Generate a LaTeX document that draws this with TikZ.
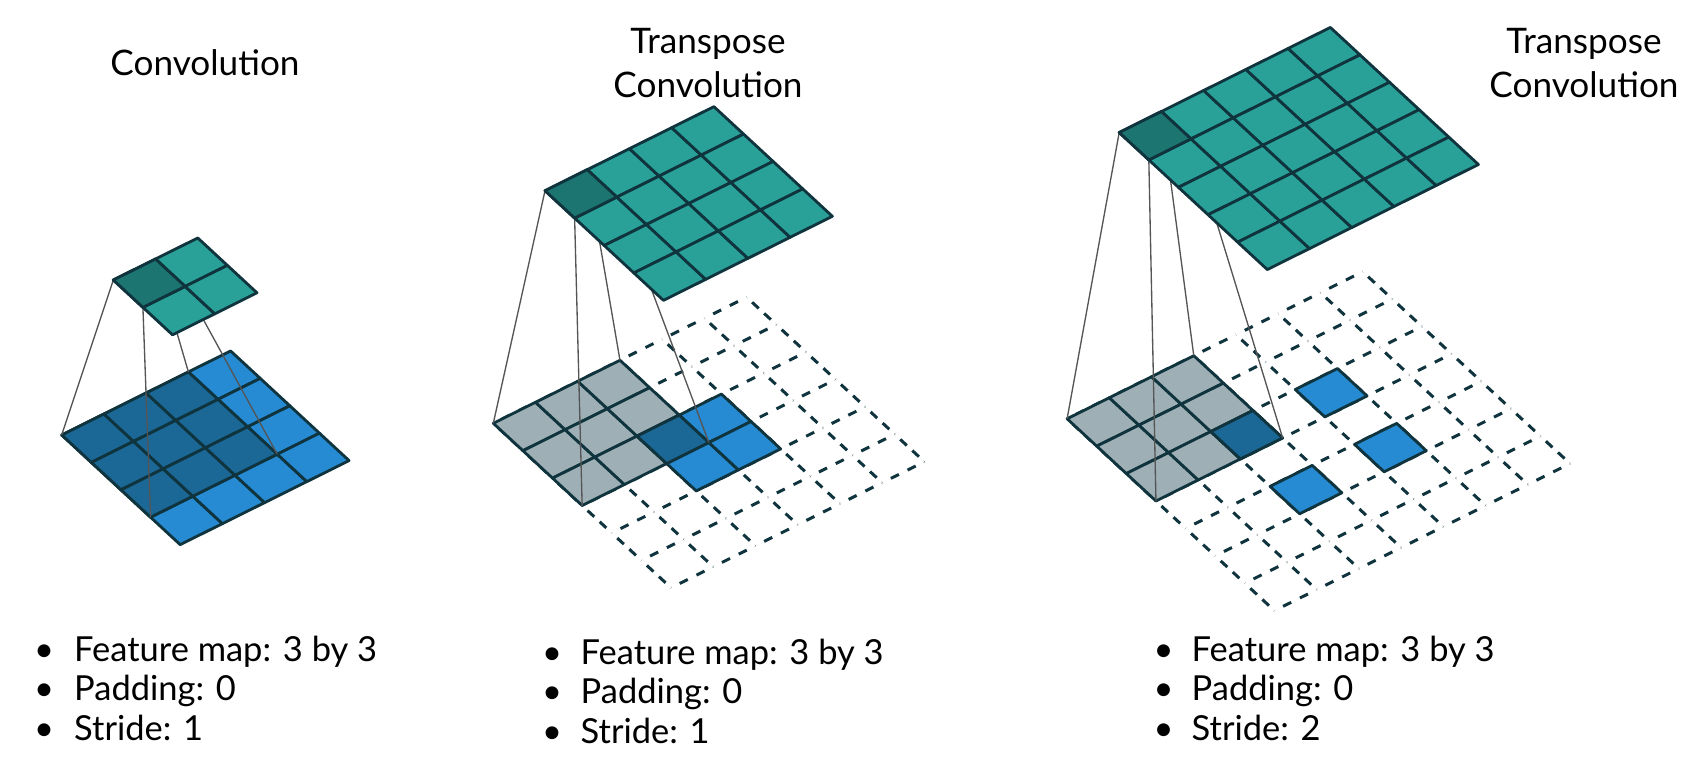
\documentclass[tikz,border=0pt]{standalone}
\usepackage{fontspec}
\setmainfont{Lato}
\usetikzlibrary{decorations}

\definecolor{tealcell}{RGB}{42,161,152}
\definecolor{tealdark}{RGB}{28,117,113}
\definecolor{bluecell}{RGB}{38,139,210}
\definecolor{bluedark}{RGB}{27,103,150}
\definecolor{greycell}{RGB}{158,176,181}
\definecolor{gridline}{RGB}{16,52,62}
\definecolor{projgrey}{RGB}{85,85,85}

\tikzset{
  cellbox/.style={draw=gridline, line width=0.8pt, line join=round},
  dashedge/.style={draw=gridline, line width=0.85pt, dash pattern=on 0.09cm off 0.06cm, dash expand off},
  projline/.style={draw=projgrey, line width=0.38pt},
  title/.style={font=\fontsize{10}{12}\selectfont, anchor=base},
  itemtext/.style={font=\fontsize{9.8}{12}\selectfont, anchor=base west, inner sep=0pt},
  itemdot/.style={font=\fontsize{9.8}{12}\selectfont, anchor=base},
  gridxy/.style={x={(0.422cm,0.21cm)}, y={(0.296cm,-0.274cm)}}
}
% one cell of a sheared grid: column, row, colour
\newcommand\cell[3]{\path[cellbox, fill=#3] (#1,#2) -- ++(1,0) -- ++(0,1) -- ++(-1,0) -- cycle;}
% dashed n x n grid
\newcommand\dashgrid[1]{%
  \foreach \i in {0,...,#1} \foreach \j in {1,...,#1} {
    \draw[dashedge] (\i,\j-1) -- (\i,\j);
    \draw[dashedge] (\j-1,\i) -- (\j,\i);
  }}

\begin{document}
\begin{tikzpicture}[x=0.01cm, y=-0.01cm]
  \useasboundingbox (0,0) rectangle (1694,758);

  % titles
  \node[title] (ttl1) at (205,76) {Convolution};
  \node[title] (ttl2a) at (708,54) {Transpose};
  \node[title] (ttl2b) at (708,98) {Convolution};
  \node[title] (ttl3a) at (1584,54) {Transpose};
  \node[title] (ttl3b) at (1584,98) {Convolution};

  % panel 1: convolution
  \begin{scope}[shift={(61.7,435)}, gridxy]
    \foreach \i in {0,...,3} \foreach \j in {0,...,3} {\cell{\i}{\j}{bluecell}}
    \foreach \i in {0,...,2} \foreach \j in {0,...,2} {\cell{\i}{\j}{bluedark}}
    \coordinate (k1a) at (0,0); \coordinate (k1b) at (0,3);
    \coordinate (k1c) at (3,0); \coordinate (k1d) at (3,3);
  \end{scope}
  \begin{scope}[shift={(113.3,280)}, gridxy]
    \coordinate (o1a) at (0,0); \coordinate (o1b) at (0,1);
    \coordinate (o1c) at (1,0); \coordinate (o1d) at (1,1);
    \draw[projline] (o1a) -- (k1a) (o1b) -- (k1b) (o1c) -- (k1c) (o1d) -- (k1d);
    \foreach \i in {0,1} \foreach \j in {0,1} {\cell{\i}{\j}{tealcell}}
    \cell{0}{0}{tealdark}
  \end{scope}

  % panel 2: transpose convolution, stride 1
  \begin{scope}[shift={(493.3,423.3)}, gridxy]
    \dashgrid{6}
    \foreach \i in {0,...,2} \foreach \j in {0,...,2} {\cell{\i}{\j}{greycell}}
    \cell{3}{2}{bluecell} \cell{2}{3}{bluecell} \cell{3}{3}{bluecell}
    \cell{2}{2}{bluedark}
    \coordinate (k2a) at (0,0); \coordinate (k2b) at (0,3);
    \coordinate (k2c) at (3,0); \coordinate (k2d) at (3,3);
  \end{scope}
  \begin{scope}[shift={(545,190.7)}, gridxy]
    \coordinate (o2a) at (0,0); \coordinate (o2b) at (0,1);
    \coordinate (o2c) at (1,0); \coordinate (o2d) at (1,1);
    \draw[projline] (o2a) -- (k2a) (o2b) -- (k2b) (o2c) -- (k2c) (o2d) -- (k2d);
    \foreach \i in {0,...,3} \foreach \j in {0,...,3} {\cell{\i}{\j}{tealcell}}
    \cell{0}{0}{tealdark}
  \end{scope}

  % panel 3: transpose convolution, stride 2
  \begin{scope}[shift={(1067.1,418.75)}, gridxy]
    \dashgrid{7}
    \foreach \i in {0,...,2} \foreach \j in {0,...,2} {\cell{\i}{\j}{greycell}}
    \cell{4}{2}{bluecell} \cell{2}{4}{bluecell} \cell{4}{4}{bluecell}
    \cell{2}{2}{bluedark}
    \coordinate (k3a) at (0,0); \coordinate (k3b) at (0,3);
    \coordinate (k3c) at (3,0); \coordinate (k3d) at (3,3);
  \end{scope}
  \begin{scope}[shift={(1119.2,132.5)}, gridxy]
    \coordinate (o3a) at (0,0); \coordinate (o3b) at (0,1);
    \coordinate (o3c) at (1,0); \coordinate (o3d) at (1,1);
    \draw[projline] (o3a) -- (k3a) (o3b) -- (k3b) (o3c) -- (k3c) (o3d) -- (k3d);
    \foreach \i in {0,...,4} \foreach \j in {0,...,4} {\cell{\i}{\j}{tealcell}}
    \cell{0}{0}{tealdark}
  \end{scope}

  % bullet lists
  \foreach \txt [count=\k, evaluate=\k as \yb using 661+39.5*(\k-1)] in {Feature map: 3 by 3, Padding: 0, Stride: 1} {
    \node[itemdot] (dot1-\k) at (44,\yb) {\textbullet};
    \node[itemtext] (item1-\k) at (73.5,\yb) {\txt};
  }
  \foreach \txt [count=\k, evaluate=\k as \yb using 664+39.5*(\k-1)] in {Feature map: 3 by 3, Padding: 0, Stride: 1} {
    \node[itemdot] (dot2-\k) at (552,\yb) {\textbullet};
    \node[itemtext] (item2-\k) at (580,\yb) {\txt};
  }
  \foreach \txt [count=\k, evaluate=\k as \yb using 661+39.5*(\k-1)] in {Feature map: 3 by 3, Padding: 0, Stride: 2} {
    \node[itemdot] (dot3-\k) at (1163.5,\yb) {\textbullet};
    \node[itemtext] (item3-\k) at (1191,\yb) {\txt};
  }
\end{tikzpicture}
\end{document}
